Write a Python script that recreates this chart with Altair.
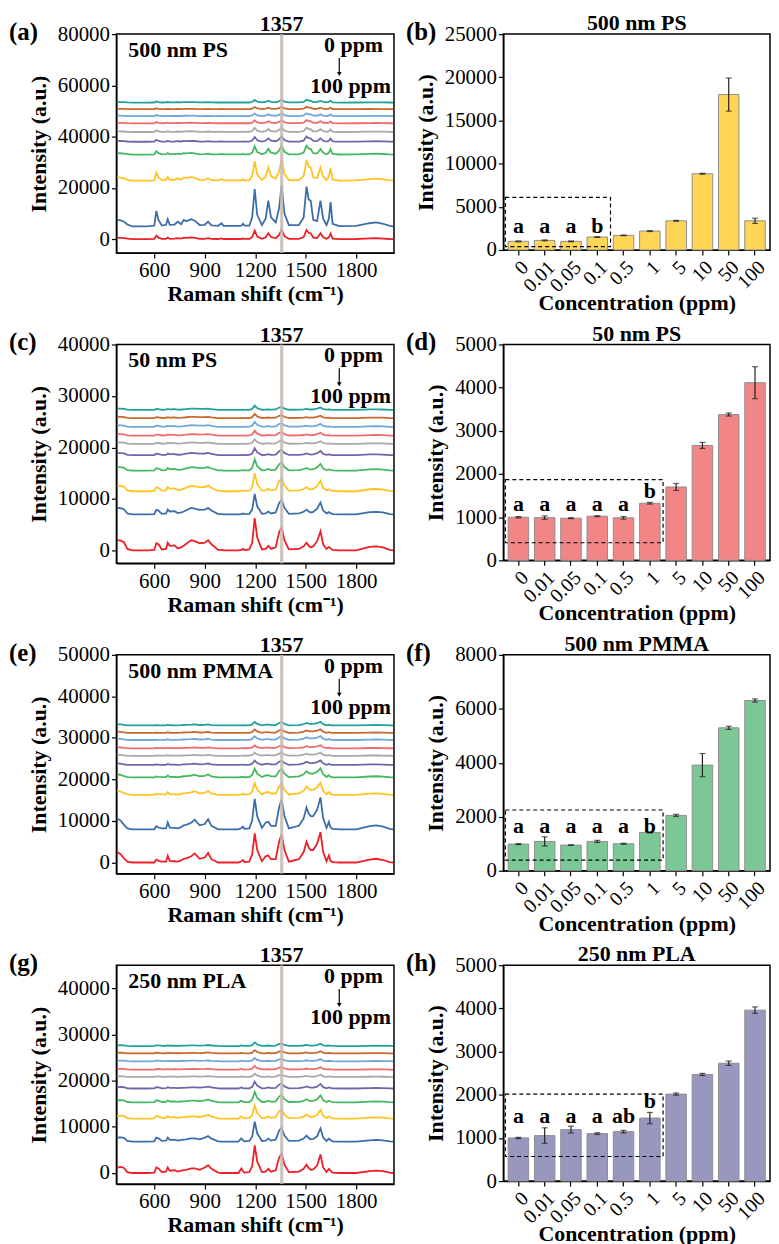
import altair as alt
import pandas as pd

FONT = "Liberation Serif"

# ---------------- spectra data ----------------
X_GRID = [380, 400, 420, 440, 470, 560, 600, 612, 625, 645, 670, 680, 692, 720, 740,
          760, 775, 790, 820, 840, 870, 900, 920, 940, 980, 1000, 1012, 1100, 1118, 1127,
          1136, 1165, 1182, 1197, 1212, 1240, 1262, 1278, 1294, 1322, 1342, 1357, 1374, 1400, 1460,
          1488, 1505, 1518, 1530, 1545, 1568, 1588, 1604, 1624, 1638, 1648, 1660, 1700, 1800, 1880,
          1920, 1960, 2000, 2020]

SHAPE_A = [2500, 2300, 1800, 700, 0, 0, 300, 6000, 2500, 300, 600, 2800, 600, 700, 1800,
           800, 2500, 2000, 2800, 2200, 500, 600, 1800, 400, 200, 1200, 200, 200, 300, 1000,
           300, 300, 3500, 14500, 4500, 500, 3000, 10000, 3500, 1500, 7000, 16000, 5000, 500, 500,
           3500, 15500, 10500, 10000, 2500, 2000, 10000, 3000, 500, 3000, 9500, 1000, 100, 200, 1200,
           1500, 1000, 200, 0]
SHAPE_C = [2000, 1900, 1600, 300, 0, 0, 100, 1400, 1200, 200, 300, 1500, 900, 1000, 400,
           600, 900, 1300, 2000, 1800, 1400, 1500, 2000, 1200, 100, 100, 0, 0, 100, 300,
           100, 200, 1500, 6300, 2500, 200, 300, 900, 300, 600, 3500, 4500, 2000, 200, 300,
           800, 1500, 900, 600, 800, 1800, 3700, 1200, 300, 700, 400, 100, 0, 0, 700,
           800, 600, 100, 0]
SHAPE_E = [2500, 2000, 1000, 200, 0, 0, 0, 700, 400, 200, 200, 1600, 400, 300, 200,
           500, 900, 1000, 1500, 2200, 900, 1200, 2300, 800, 0, 0, 0, 0, 300, 600,
           100, 200, 2000, 7000, 3000, 300, 1500, 1700, 800, 800, 5000, 6800, 3000, 200, 800,
           2500, 5000, 3600, 3000, 3000, 4500, 7300, 2500, 300, 1700, 400, 100, 0, 0, 700,
           900, 600, 100, 0]
SHAPE_G = [1200, 1300, 1100, 200, 0, 0, 100, 1200, 1000, 200, 300, 1200, 500, 600, 300,
           500, 600, 700, 1000, 1000, 700, 1200, 1700, 900, 100, 0, 0, 0, 1000, 400,
           100, 200, 1500, 6000, 2500, 200, 300, 900, 300, 600, 3300, 4200, 1800, 200, 300,
           900, 1800, 1100, 700, 800, 1600, 4000, 1200, 200, 900, 500, 100, 0, 0, 400,
           500, 400, 100, 0]

TRACE_NAMES = ["100 ppm", "50 ppm", "10 ppm", "5 ppm", "1 ppm", "0.5 ppm",
               "0.1 ppm", "0.05 ppm", "0.01 ppm", "0 ppm"]
TRACE_COLORS = ["#ee1f26", "#3b6ea8", "#ffc322", "#46b862", "#6b68aa", "#a8a8a8",
                "#f06b6b", "#6ea7dc", "#c9692f", "#20a29b"]

OFFSETS_A = [0, 5000, 22800, 33000, 38000, 41800, 45200, 48000, 50700, 53300]
SCALES_A = [0.23, 1.0, 0.52, 0.22, 0.13, 0.11, 0.08, 0.07, 0.06, 0.07]
OFFSETS_C = [0, 7000, 11500, 15500, 18500, 20700, 22300, 24000, 25700, 27300]
SCALES_C = [1.0, 0.63, 0.55, 0.35, 0.22, 0.14, 0.15, 0.16, 0.13, 0.13]
OFFSETS_E = [0, 8000, 16300, 20500, 23500, 25700, 27500, 29500, 31200, 33000]
SCALES_E = [1.0, 1.05, 0.4, 0.3, 0.15, 0.1, 0.1, 0.13, 0.12, 0.12]
OFFSETS_G = [0, 6800, 11800, 15300, 18300, 20800, 22400, 24200, 25900, 27500]
SCALES_G = [1.0, 0.72, 0.47, 0.38, 0.25, 0.12, 0.13, 0.12, 0.12, 0.13]

# ---------------- bar data ----------------
CONC = ["0", "0.01", "0.05", "0.1", "0.5", "1", "5", "10", "50", "100"]

VAL_B = [1000, 1110, 1000, 1500, 1690, 2190, 3380, 8830, 18000, 3380]
ERR_B = [50, 50, 50, 40, 40, 50, 50, 60, 1920, 300]
LET_B = ["a", "a", "a", "b"]
LETY_B = [2000, 2000, 2000, 2000]
BOX_B = [380, 6100]

VAL_D = [1000, 990, 977, 1023, 985, 1323, 1700, 2662, 3377, 4115]
ERR_D = [15, 40, 10, 10, 30, 20, 80, 70, 35, 370]
LET_D = ["a", "a", "a", "a", "a", "b"]
LETY_D = [1150, 1150, 1150, 1150, 1150, 1450]
BOX_D = [408, 1870]

VAL_F = [988, 1086, 950, 1086, 1000, 1420, 2050, 3914, 5296, 6309]
ERR_F = [20, 170, 10, 40, 20, 20, 40, 430, 60, 60]
LET_F = ["a", "a", "a", "a", "a", "b"]
LETY_F = [1410, 1410, 1410, 1410, 1410, 1410]
BOX_F = [395, 2250]

VAL_H = [1000, 1054, 1192, 1100, 1146, 1460, 2015, 2470, 2730, 3960]
ERR_H = [15, 180, 80, 20, 30, 130, 25, 25, 50, 75]
LET_H = ["a", "a", "a", "a", "ab", "b"]
LETY_H = [1350, 1350, 1350, 1350, 1350, 1690]
BOX_H = [570, 2015]

LW, LH = 279, 220
RW, RH = 268, 217


def label(text, x, y, align="left", baseline="middle", size=21, weight="bold"):
    return alt.Chart(pd.DataFrame({"t": [text]})).mark_text(
        align=align, baseline=baseline, font=FONT, fontSize=size,
        fontWeight=weight, color="black"
    ).encode(x=alt.value(x), y=alt.value(y), text="t:N")


def spectra_panel(letter, name, shape, offsets, scales, ymin, ymax, ystep):
    rows = []
    for tn, off, sc in zip(TRACE_NAMES, offsets, scales):
        for xv, s in zip(X_GRID, shape):
            rows.append({"shift": xv, "intensity": off + sc * s, "trace": tn})
    df = pd.DataFrame(rows)
    xs = alt.Scale(domain=[375, 2025], nice=False, zero=False)
    ys = alt.Scale(domain=[ymin, ymax], nice=False, zero=False)
    xax = alt.Axis(title="Raman shift (cm⁻¹)", values=[600, 900, 1200, 1500, 1800], format="d")
    yax = alt.Axis(title="Intensity (a.u.)", values=list(range(0, ymax + 1, ystep)), format="d")

    def X(f):
        return alt.X(f + ":Q", scale=xs, axis=xax)

    lines = alt.Chart(df).mark_line(strokeWidth=1.8).encode(
        x=X("shift"),
        y=alt.Y("intensity:Q", scale=ys, axis=yax),
        color=alt.Color("trace:N", scale=alt.Scale(domain=TRACE_NAMES, range=TRACE_COLORS), legend=None),
    )
    band = alt.Chart(pd.DataFrame({"shift": [1348], "s2": [1367]})).mark_rect(
        color="#c6bab1", opacity=0.85
    ).encode(x=X("shift"), x2="s2:Q", y=alt.value(0), y2=alt.value(LH))
    peak = alt.Chart(pd.DataFrame({"shift": [1357], "t": ["1357"]})).mark_text(
        font=FONT, fontSize=22, fontWeight="bold", baseline="bottom", color="black"
    ).encode(x=X("shift"), y=alt.value(2), text="t:N")
    arrow = alt.Chart(pd.DataFrame({"a": [0]})).mark_rule(color="black", strokeWidth=1.2).encode(
        x=alt.value(224), y=alt.value(24), y2=alt.value(39))
    tip = alt.Chart(pd.DataFrame({"a": [0]})).mark_point(
        shape="triangle-down", filled=True, color="black", size=22, opacity=1
    ).encode(x=alt.value(224), y=alt.value(40))
    return alt.layer(
        lines, band, peak,
        label(name, 12, 23, baseline="alphabetic", size=22),
        label("0 ppm", 268, 18, align="right", baseline="alphabetic", size=22),
        arrow, tip,
        label("100 ppm", 276, 59, align="right", baseline="alphabetic", size=22),
        label(letter, -108, -2, size=25),
    ).properties(width=LW, height=LH)


def bar_panel(letter, title, values, errors, letters, letter_y, box, nbox, ymax, ystep, color):
    df = pd.DataFrame({
        "conc": CONC, "value": values,
        "lo": [v - e for v, e in zip(values, errors)],
        "hi": [v + e for v, e in zip(values, errors)],
    })
    pin, pout = 0.22, 0.18
    xs = alt.Scale(domain=CONC, paddingInner=pin, paddingOuter=pout)
    xax = alt.Axis(title="Concentration (ppm)", labelAngle=-45, labelFontSize=20, titlePadding=-3)
    xenc = alt.X("conc:N", sort=CONC, scale=xs, axis=xax)
    ys = alt.Scale(domain=[0, ymax], nice=False, zero=True)
    yax = alt.Axis(title="Intensity (a.u.)", values=list(range(0, ymax + 1, ystep)), format="d")

    def Y(f):
        return alt.Y(f + ":Q", scale=ys, axis=yax)

    bars = alt.Chart(df).mark_bar(color=color, stroke="#8e8e8e", strokeWidth=1).encode(x=xenc, y=Y("value"))
    rules = alt.Chart(df).mark_rule(color="#222222", strokeWidth=1.2).encode(x=xenc, y=Y("lo"), y2="hi:Q")
    cap_lo = alt.Chart(df).mark_tick(color="#222222", size=6, thickness=1.2).encode(x=xenc, y=Y("lo"))
    cap_hi = alt.Chart(df).mark_tick(color="#222222", size=6, thickness=1.2).encode(x=xenc, y=Y("hi"))
    ldf = pd.DataFrame({"conc": CONC[:len(letters)], "lab": letters, "ly": letter_y})
    texts = alt.Chart(ldf).mark_text(
        font=FONT, fontSize=22, fontWeight="bold", baseline="alphabetic", color="black"
    ).encode(x=xenc, y=Y("ly"), text="lab:N")
    step = RW / (len(CONC) - pin + 2 * pout)
    right_px = step * pout + (nbox - 1) * step + step * (1 - pin) + 3
    boxc = alt.Chart(pd.DataFrame({"b0": [box[0]], "b1": [box[1]]})).mark_rect(
        fillOpacity=0, stroke="black", strokeWidth=1.2, strokeDash=[4, 3]
    ).encode(x=alt.value(2), x2=alt.value(right_px), y=Y("b0"), y2="b1:Q")
    return alt.layer(
        bars, rules, cap_lo, cap_hi, texts, boxc,
        label(title, RW / 2, 1, align="center", baseline="bottom", size=22),
        label(letter, -98, -2, size=25),
    ).properties(width=RW, height=RH)


rows = [
    alt.hconcat(
        spectra_panel("(a)", "500 nm PS", SHAPE_A, OFFSETS_A, SCALES_A, -5400, 80000, 20000),
        bar_panel("(b)", "500 nm PS", VAL_B, ERR_B, LET_B, LETY_B, BOX_B, 4, 25000, 5000, "#fed555"),
        spacing=7),
    alt.hconcat(
        spectra_panel("(c)", "50 nm PS", SHAPE_C, OFFSETS_C, SCALES_C, -2500, 40000, 10000),
        bar_panel("(d)", "50 nm PS", VAL_D, ERR_D, LET_D, LETY_D, BOX_D, 6, 5000, 1000, "#f28585"),
        spacing=7),
    alt.hconcat(
        spectra_panel("(e)", "500 nm PMMA", SHAPE_E, OFFSETS_E, SCALES_E, -2700, 50000, 10000),
        bar_panel("(f)", "500 nm PMMA", VAL_F, ERR_F, LET_F, LETY_F, BOX_F, 6, 8000, 2000, "#7bc896"),
        spacing=7),
    alt.hconcat(
        spectra_panel("(g)", "250 nm PLA", SHAPE_G, OFFSETS_G, SCALES_G, -2400, 45000, 10000),
        bar_panel("(h)", "250 nm PLA", VAL_H, ERR_H, LET_H, LETY_H, BOX_H, 6, 5000, 1000, "#9797bf"),
        spacing=7),
]

chart = alt.vconcat(*rows, spacing=7).properties(
    padding={"left": 0, "top": 0, "right": 0, "bottom": 0}
).configure_view(
    stroke="black", strokeWidth=1.5
).configure_axis(
    labelFont=FONT, titleFont=FONT, labelFontSize=21, titleFontSize=22,
    titleFontWeight="bold", labelColor="black", titleColor="black",
    domainColor="black", tickColor="black", tickSize=5, domainWidth=1.2,
    tickWidth=1.2, grid=False, labelPadding=2, titlePadding=3
).configure_axisY(
    titlePadding=7
)

chart.save("out.html", embed_options={"renderer": "svg", "actions": False})
